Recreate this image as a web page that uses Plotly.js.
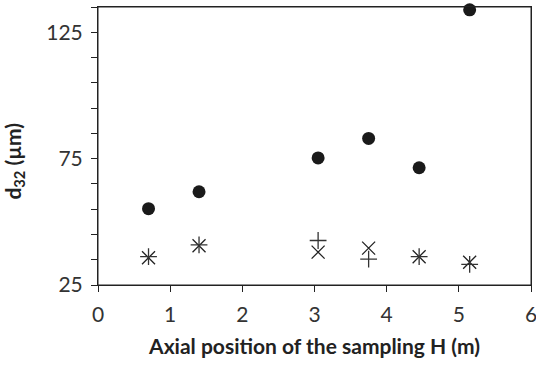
<!DOCTYPE html>
<html>
<head>
<meta charset="utf-8">
<script src="https://cdn.plot.ly/plotly-3.0.1.min.js"></script>
<style>html,body{margin:0;padding:0;background:#fff;}#chart{width:536px;height:365px;}</style>
</head>
<body>
<div id="chart"></div>
<script>
var positionH = [0.7, 1.4, 3.05, 3.75, 4.45, 5.15];
var d32Circles = [55.2, 61.9, 75.3, 83.0, 71.4, 133.9];
var d32Crosses = [35.8, 40.5, 38.0, 39.6, 36.2, 34.0];
var d32Plus = [36.2, 40.9, 42.6, 35.2, 36.2, 33.2];
var xTickVals = [0, 1, 2, 3, 4, 5, 6];
var yTickVals = [25, 75, 125];

var traces = [
  {x: positionH, y: d32Circles, mode: 'markers', type: 'scatter', cliponaxis: false,
   marker: {symbol: 'circle', size: 13, color: '#1a1a1a'}},
  {x: positionH, y: d32Crosses, mode: 'markers', type: 'scatter',
   marker: {symbol: 'x-thin-open', size: 13, color: '#222', line: {color: '#222', width: 1.3}}},
  {x: positionH, y: d32Plus, mode: 'markers', type: 'scatter',
   marker: {symbol: 'cross-thin-open', size: 12, color: '#333', line: {color: '#333', width: 1.3}}}
];

var layout = {
  width: 536, height: 365,
  margin: {l: 98, r: 5, t: 7, b: 80},
  paper_bgcolor: '#fff', plot_bgcolor: '#fff',
  showlegend: false,
  font: {family: 'Lato, Carlito, sans-serif', color: '#222', size: 21},
  xaxis: {
    range: [0, 6], tickvals: xTickVals, ticktext: xTickVals.map(String),
    showgrid: false, zeroline: false, showline: true, linecolor: '#222', linewidth: 1,
    mirror: true, ticks: 'outside', ticklen: 6, tickcolor: '#222', ticklabelstandoff: 5,
    ticklabeloverflow: 'allow',
    tickfont: {size: 21, color: '#333'},
    title: {text: '<b>Axial position of the sampling H (m)</b>', font: {size: 21, color: '#222'}, standoff: 14}
  },
  yaxis: {
    range: [25, 135], tickvals: yTickVals, ticktext: yTickVals.map(String),
    showgrid: false, zeroline: false, showline: true, linecolor: '#222', linewidth: 1,
    mirror: true, ticks: 'outside', ticklen: 6, tickcolor: '#222', ticklabelstandoff: 4,
    ticklabeloverflow: 'allow',
    tickfont: {size: 21, color: '#333'},
    minor: {dtick: 10, tick0: 25, ticks: 'outside', ticklen: 6, tickcolor: '#222', showgrid: false}
  },
  shapes: [
    {type: 'rect', xref: 'paper', yref: 'paper', x0: 0, x1: 1, y0: 0, y1: 1,
     line: {color: '#222', width: 1}, fillcolor: 'rgba(0,0,0,0)', layer: 'below'}
  ],
  annotations: [
    {text: '<b>d<sub>32</sub> (µm)</b>', xref: 'paper', yref: 'paper', x: -0.195, y: 0.446,
     xanchor: 'center', yanchor: 'middle', textangle: -90, showarrow: false,
     font: {size: 21, color: '#222'}}
  ]
};
Plotly.newPlot('chart', traces, layout, {displayModeBar: false, staticPlot: true});
</script>
</body>
</html>
